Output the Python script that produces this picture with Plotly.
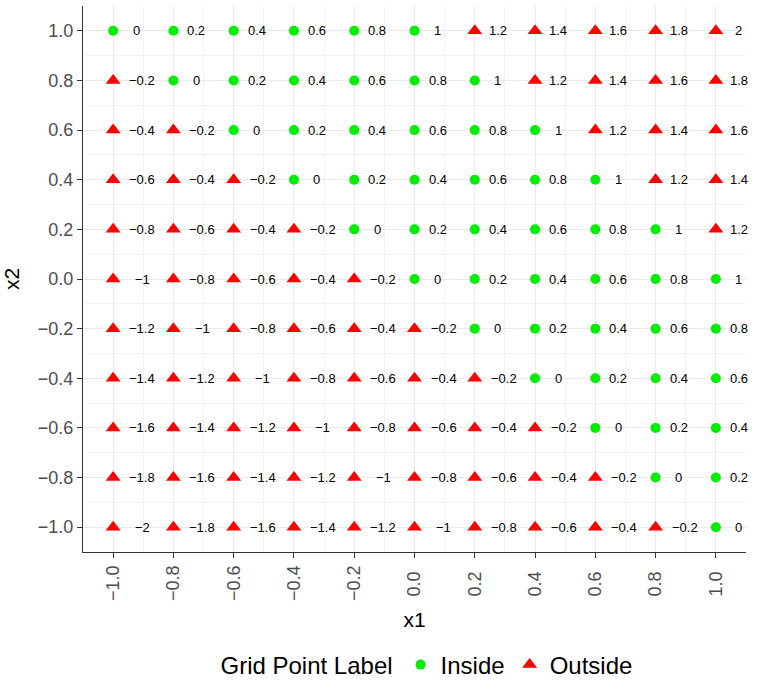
import plotly.graph_objects as go

# ---- data -------------------------------------------------------------
x1_values = [-1.0, -0.8, -0.6, -0.4, -0.2, 0.0, 0.2, 0.4, 0.6, 0.8, 1.0]
x2_values = [1.0, 0.8, 0.6, 0.4, 0.2, 0.0, -0.2, -0.4, -0.6, -0.8, -1.0]  # rows, top to bottom

# label shown next to each grid point (row = x2, column = x1)
label_rows = [
    [0, 0.2, 0.4, 0.6, 0.8, 1, 1.2, 1.4, 1.6, 1.8, 2],
    [-0.2, 0, 0.2, 0.4, 0.6, 0.8, 1, 1.2, 1.4, 1.6, 1.8],
    [-0.4, -0.2, 0, 0.2, 0.4, 0.6, 0.8, 1, 1.2, 1.4, 1.6],
    [-0.6, -0.4, -0.2, 0, 0.2, 0.4, 0.6, 0.8, 1, 1.2, 1.4],
    [-0.8, -0.6, -0.4, -0.2, 0, 0.2, 0.4, 0.6, 0.8, 1, 1.2],
    [-1, -0.8, -0.6, -0.4, -0.2, 0, 0.2, 0.4, 0.6, 0.8, 1],
    [-1.2, -1, -0.8, -0.6, -0.4, -0.2, 0, 0.2, 0.4, 0.6, 0.8],
    [-1.4, -1.2, -1, -0.8, -0.6, -0.4, -0.2, 0, 0.2, 0.4, 0.6],
    [-1.6, -1.4, -1.2, -1, -0.8, -0.6, -0.4, -0.2, 0, 0.2, 0.4],
    [-1.8, -1.6, -1.4, -1.2, -1, -0.8, -0.6, -0.4, -0.2, 0, 0.2],
    [-2, -1.8, -1.6, -1.4, -1.2, -1, -0.8, -0.6, -0.4, -0.2, 0],
]

# I = Inside, O = Outside
status_rows = [
    "IIIIIIOOOOO",
    "OIIIIIIOOOO",
    "OOIIIIIIOOO",
    "OOOIIIIIIOO",
    "OOOOIIIIIIO",
    "OOOOOIIIIII",
    "OOOOOOIIIII",
    "OOOOOOOIIII",
    "OOOOOOOOIII",
    "OOOOOOOOOII",
    "OOOOOOOOOOI",
]

tick_values = [-1.0, -0.8, -0.6, -0.4, -0.2, 0.0, 0.2, 0.4, 0.6, 0.8, 1.0]
tick_labels = ["\u22121.0", "\u22120.8", "\u22120.6", "\u22120.4", "\u22120.2",
               "0.0", "0.2", "0.4", "0.6", "0.8", "1.0"]

# ---- build -------------------------------------------------------------
FONT = "Liberation Sans, Arial, Helvetica, sans-serif"
GREEN = "#00EE00"
RED = "#FF0000"


def fmt(v):
    s = "%g" % v
    return s.replace("-", "\u2212")


# rotated x tick labels are centred on the tick in the reference: pad the
# shorter (non-negative) ones with a thin trailing space
x_tick_text = [t if t.startswith("\u2212") else t + "\u2004" for t in tick_labels]

ins_x, ins_y, out_x, out_y = [], [], [], []
annotations = []
for r, x2 in enumerate(x2_values):
    for c, x1 in enumerate(x1_values):
        if status_rows[r][c] == "I":
            ins_x.append(x1); ins_y.append(x2)
        else:
            out_x.append(x1); out_y.append(x2)
        v = label_rows[r][c]
        annotations.append(dict(
            x=x1, y=x2, xref="x", yref="y", text=fmt(v), showarrow=False,
            xanchor="center", yanchor="middle",
            xshift=29 if v < 0 else 23,
            font=dict(family=FONT, size=13, color="#000000"),
        ))

fig = go.Figure()
fig.add_trace(go.Scatter(
    x=ins_x, y=ins_y, mode="markers", name="Inside",
    marker=dict(symbol="circle", size=10, color=GREEN, line=dict(width=0)),
))
fig.add_trace(go.Scatter(
    x=out_x, y=out_y, mode="markers", name="Outside",
    marker=dict(symbol="triangle-up", size=13, color=RED, line=dict(width=0)),
))

axis_common = dict(
    range=[-1.1, 1.1], automargin=False,
    tickmode="array", tickvals=tick_values,
    showgrid=True, gridcolor="#EBEBEB", gridwidth=1.1,
    minor=dict(dtick=0.1, tick0=0.1, showgrid=True, gridcolor="#F3F3F3", gridwidth=0.6),
    showline=True, linecolor="#333333", linewidth=1.4,
    ticks="outside", ticklen=5, tickwidth=1.1, tickcolor="#333333",
    tickfont=dict(family=FONT, size=18, color="#4D4D4D"),
    zeroline=False, mirror=False,
)

fig.update_layout(
    template="none",
    width=767, height=687,
    margin=dict(l=83, r=21, t=6, b=135, autoexpand=False),
    plot_bgcolor="white", paper_bgcolor="white",
    font=dict(family=FONT, color="#000000"),
    xaxis=dict(axis_common, ticktext=x_tick_text, tickangle=-90,
               title=dict(text="x1", font=dict(family=FONT, size=21, color="#000000"), standoff=12)),
    yaxis=dict(axis_common, ticktext=tick_labels,
               title=dict(text="x2", font=dict(family=FONT, size=21, color="#000000"), standoff=12)),
    annotations=annotations,
    showlegend=True,
    legend=dict(
        orientation="h", xref="container", x=0.558, xanchor="center",
        yref="container", y=0.032, yanchor="middle",
        title=dict(text="Grid Point Label", side="left", font=dict(family=FONT, size=24)),
        font=dict(family=FONT, size=24, color="#000000"),
        itemsizing="trace", itemwidth=30, traceorder="normal",
        bgcolor="rgba(0,0,0,0)",
    ),
)

fig.write_html("out.html",
               config={"displayModeBar": False},
               post_script="document.body.style.margin='0';document.body.style.padding='0';")
